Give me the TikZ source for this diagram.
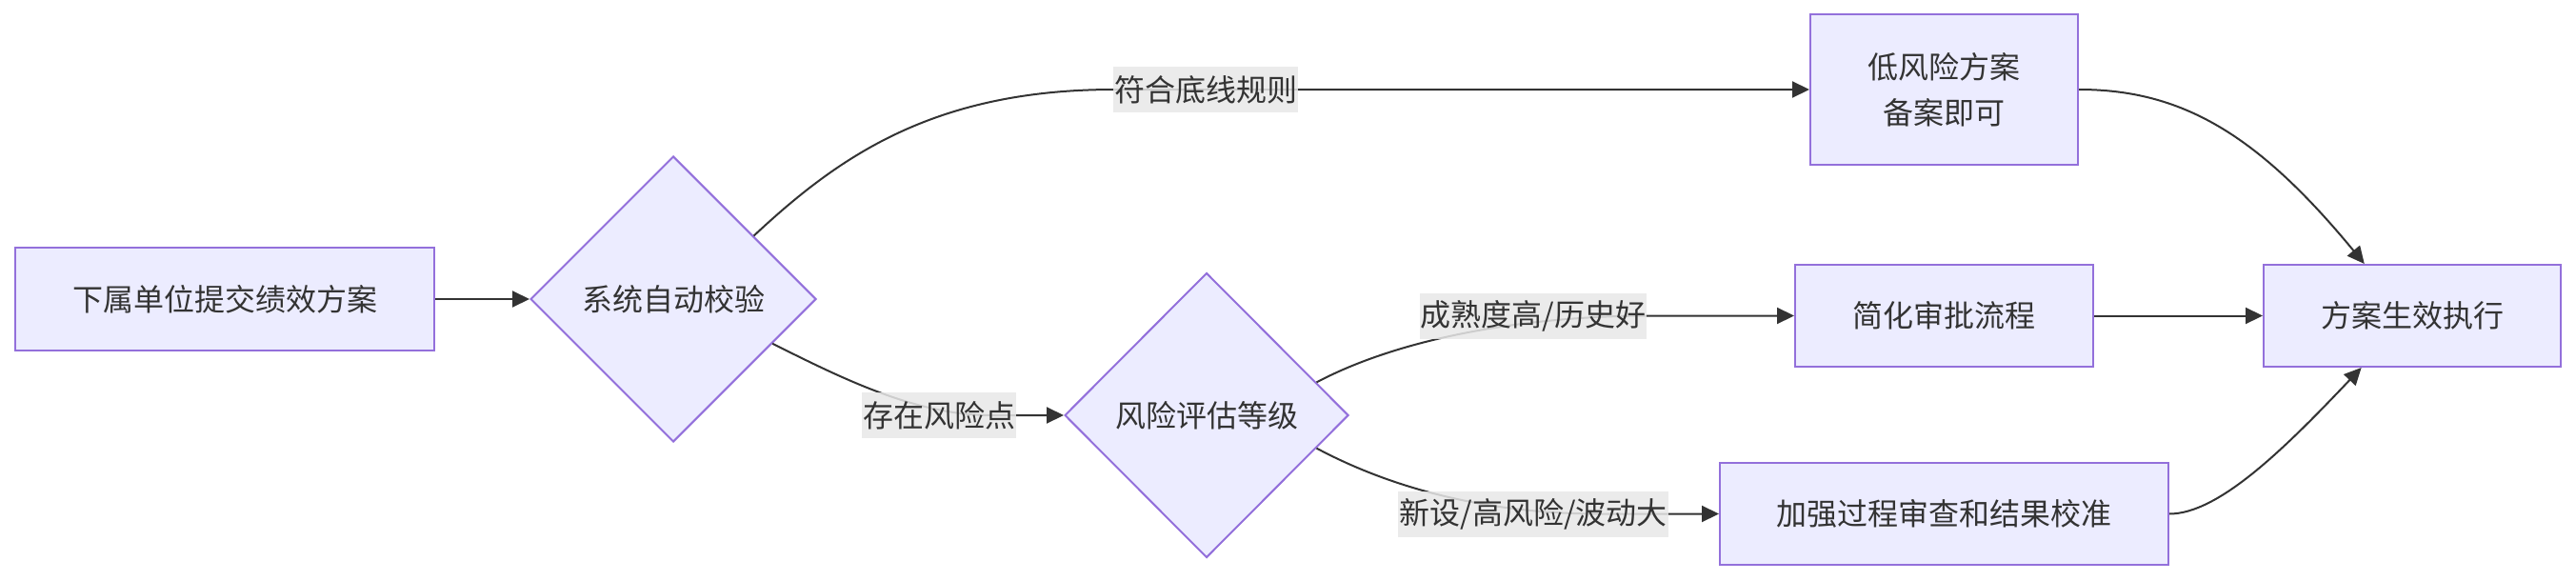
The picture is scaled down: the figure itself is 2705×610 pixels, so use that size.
\documentclass[tikz,border=0pt]{standalone}
\usepackage{fontspec}
\setmainfont{Noto Sans CJK SC}
\usetikzlibrary{shapes.geometric,arrows.meta,calc}
\definecolor{nodefill}{HTML}{ECECFF}
\definecolor{nodeline}{HTML}{9370DB}
\definecolor{edgec}{HTML}{333333}
\definecolor{labelbg}{HTML}{E8E8E8}
\begin{document}
\begin{tikzpicture}[x=1pt,y=-1pt,
  every node/.style={font=\fontsize{32}{48}\selectfont, text=edgec},
  box/.style={draw=nodeline, fill=nodefill, line width=2pt, inner sep=0pt, align=center},
  dia/.style={diamond, draw=nodeline, fill=nodefill, line width=2pt, inner sep=0pt, minimum width=300pt, minimum height=300pt, shape aspect=1},
  elabel/.style={fill=labelbg, fill opacity=0.85, text opacity=1, inner xsep=1pt, inner ysep=0pt, minimum height=48pt},
  edgeline/.style={draw=edgec, line width=2pt},
  arr/.style={edgeline, -{Triangle[length=18pt,width=17pt]}}]
\useasboundingbox (0,0) rectangle (2705,610);

% nodes
\node[box, minimum width=440pt, minimum height=108pt] (A) at (236,314) {下属单位提交绩效方案};
\node[dia] (B) at (707,314) {系统自动校验};
\node[dia, minimum width=298pt, minimum height=299pt] (G) at (1267,436) {风险评估等级};
\node[box, minimum width=281pt, minimum height=157pt] (C) at (2041.5,94) {低风险方案\\备案即可};
\node[box, minimum width=313pt, minimum height=107pt] (D) at (2041.5,331.5) {简化审批流程};
\node[box, minimum width=471pt, minimum height=107pt] (E) at (2041.5,539.5) {加强过程审查和结果校准};
\node[box, minimum width=312pt, minimum height=107pt] (F) at (2533,331.5) {方案生效执行};

% helper coordinates
\coordinate (b1) at ($(B.north)!0.56!(B.east)$);
\coordinate (b2) at ($(B.east)!0.31!(B.south)$);
\coordinate (g1) at ($(G.north)!0.77!(G.east)$);
\coordinate (g2) at ($(G.east)!0.23!(G.south)$);
\coordinate (c1) at (1170,94);
\coordinate (c2) at (1040,436);
\coordinate (c3) at (1730,331.5);
\coordinate (c4) at (1680,539.5);
\coordinate (ftop) at ($(F.north west)!0.34!(F.north east)$);
\coordinate (fbot) at ($(F.south west)!0.33!(F.south east)$);

% edges
\draw[arr] (A.east) -- (B.west);
\draw[arr] (b1) .. controls (880,165) and (980,94) .. (c1) -- (C.west);
\draw[arr] (b2) .. controls (880,395) and (960,436) .. (c2) -- (G.west);
\draw[arr] (g1) .. controls (1470,355) and (1600,332) .. (c3) -- (D.west);
\draw[arr] (g2) .. controls (1460,512) and (1560,539.5) .. (c4) -- (E.west);
\draw[arr] (C.east) .. controls (2290,94) and (2370,140) .. (ftop);
\draw[arr] (D.east) -- (F.west);
\draw[arr] (E.east) .. controls (2330,539.5) and (2400,470) .. (fbot);

% edge labels
\node[elabel] (L1) at (1266,94) {符合底线规则};
\node[elabel] (L2) at (986,436) {存在风险点};
\node[elabel] (L3) at (1610,332) {成熟度高/历史好};
\node[elabel] (L4) at (1610,540) {新设/高风险/波动大};
\end{tikzpicture}
\end{document}
